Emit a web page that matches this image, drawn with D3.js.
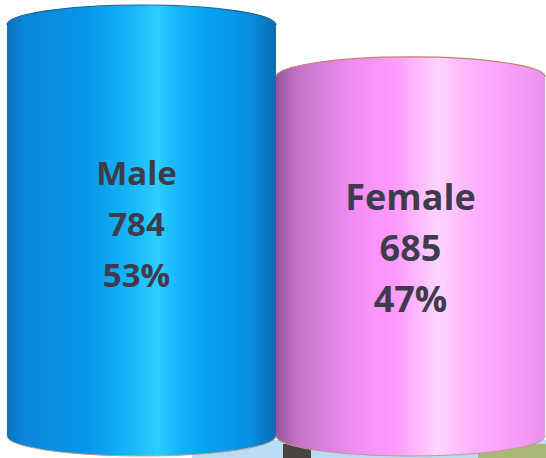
<!DOCTYPE html>
<html>
<head>
<meta charset="utf-8">
<script src="https://cdn.jsdelivr.net/npm/d3@7"></script>
<style>
  html, body { margin: 0; padding: 0; background: #fff; }
  svg { display: block; }
</style>
</head>
<body>
<div id="chart"></div>
<script>
// data
var categories = ["Male", "Female"];
var counts = [784, 685];
var percents = [53, 47];

var svgWidth = 546, svgHeight = 458;
var ry = 20;          // ellipse half height
var baseY = 436;      // centre of bottom ellipse

var svg = d3.select("#chart").append("svg")
    .attr("width", svgWidth)
    .attr("height", svgHeight);

var x = d3.scaleBand()
    .domain(categories)
    .range([7, 545])
    .paddingInner(0);

var y = d3.scaleLinear()
    .domain([0, d3.max(counts)])
    .range([baseY, 25]);

// gradients
var defs = svg.append("defs");
var gradStops = [
  [[0, "#0a72c0"], [0.06, "#0a86d8"], [0.3, "#0896ea"], [0.45, "#14b4f8"], [0.56, "#2ccfff"],
   [0.63, "#16b6fa"], [0.75, "#06a0f2"], [0.9, "#0890e2"], [1, "#0a6cb4"]],
  [[0, "#94569a"], [0.08, "#c474c8"], [0.3, "#f48ef6"], [0.45, "#ff9cff"], [0.6, "#ffd4ff"],
   [0.72, "#ffb4ff"], [0.88, "#fa9cfa"], [1, "#ea92f0"]]
];
var edgeCol = ["#17629e", "#c48068"];

categories.forEach(function(c, i) {
  var g = defs.append("linearGradient")
      .attr("id", "grad" + i)
      .attr("x1", "0%").attr("x2", "100%")
      .attr("y1", "0%").attr("y2", "0%");
  gradStops[i].forEach(function(s) {
    g.append("stop").attr("offset", s[0]).attr("stop-color", s[1]);
  });
});

// scraps of the background photo showing under the cylinders
var bg = svg.append("g");
bg.append("rect").attr("x", 192).attr("y", 440).attr("width", 354).attr("height", 18).attr("fill", "#b9dcf6");
bg.append("rect").attr("x", 283).attr("y", 444).attr("width", 28).attr("height", 14).attr("fill", "#4a4440");
bg.append("rect").attr("x", 478).attr("y", 444).attr("width", 68).attr("height", 14).attr("fill", "#a8b878");

function bodyPath(x0, x1, yTop) {
  var rx = (x1 - x0) / 2;
  return "M" + x0 + "," + yTop +
    "L" + x0 + "," + baseY +
    "A" + rx + "," + ry + " 0 0 0 " + x1 + "," + baseY +
    "L" + x1 + "," + yTop +
    "A" + rx + "," + ry + " 0 0 0 " + x0 + "," + yTop + "Z";
}
function topArc(x0, x1, yTop) {
  var rx = (x1 - x0) / 2;
  return "M" + x1 + "," + yTop + "A" + rx + "," + ry + " 0 0 0 " + x0 + "," + yTop;
}
function bottomArc(x0, x1) {
  var rx = (x1 - x0) / 2;
  return "M" + x0 + "," + baseY + "A" + rx + "," + ry + " 0 0 0 " + x1 + "," + baseY;
}

var cyl = svg.selectAll("g.cyl")
    .data(categories)
    .enter()
    .append("g")
    .attr("class", "cyl");

cyl.append("path")
    .attr("d", function(d, i) { return bodyPath(x(d), x(d) + x.bandwidth(), y(counts[i])); })
    .attr("fill", function(d, i) { return "url(#grad" + i + ")"; });

cyl.append("path")
    .attr("d", function(d, i) { return topArc(x(d), x(d) + x.bandwidth(), y(counts[i])); })
    .attr("fill", "none")
    .attr("stroke", function(d, i) { return edgeCol[i]; })
    .attr("stroke-width", 1.2);

cyl.append("path")
    .attr("d", function(d) { return bottomArc(x(d), x(d) + x.bandwidth()); })
    .attr("fill", "none")
    .attr("stroke", "#c09a80")
    .attr("stroke-width", 1);

// labels
var fontSize = [33, 36];
cyl.each(function(d, i) {
  var cx = x(d) + x.bandwidth() / 2;
  var mid = (y(counts[i]) + baseY) / 2 + 5;
  var lines = [d, String(counts[i]), percents[i] + "%"];
  d3.select(this).selectAll("text")
    .data(lines)
    .enter()
    .append("text")
    .attr("x", cx - (i === 0 ? 5 : 0))
    .attr("y", function(t, k) { return mid + (k - 1) * 51; })
    .attr("text-anchor", "middle")
    .attr("font-family", "'Open Sans', sans-serif")
    .attr("font-weight", 700)
    .attr("font-size", fontSize[i])
    .attr("fill", "#3e3c4c")
    .text(function(t) { return t; });
});
</script>
</body>
</html>
